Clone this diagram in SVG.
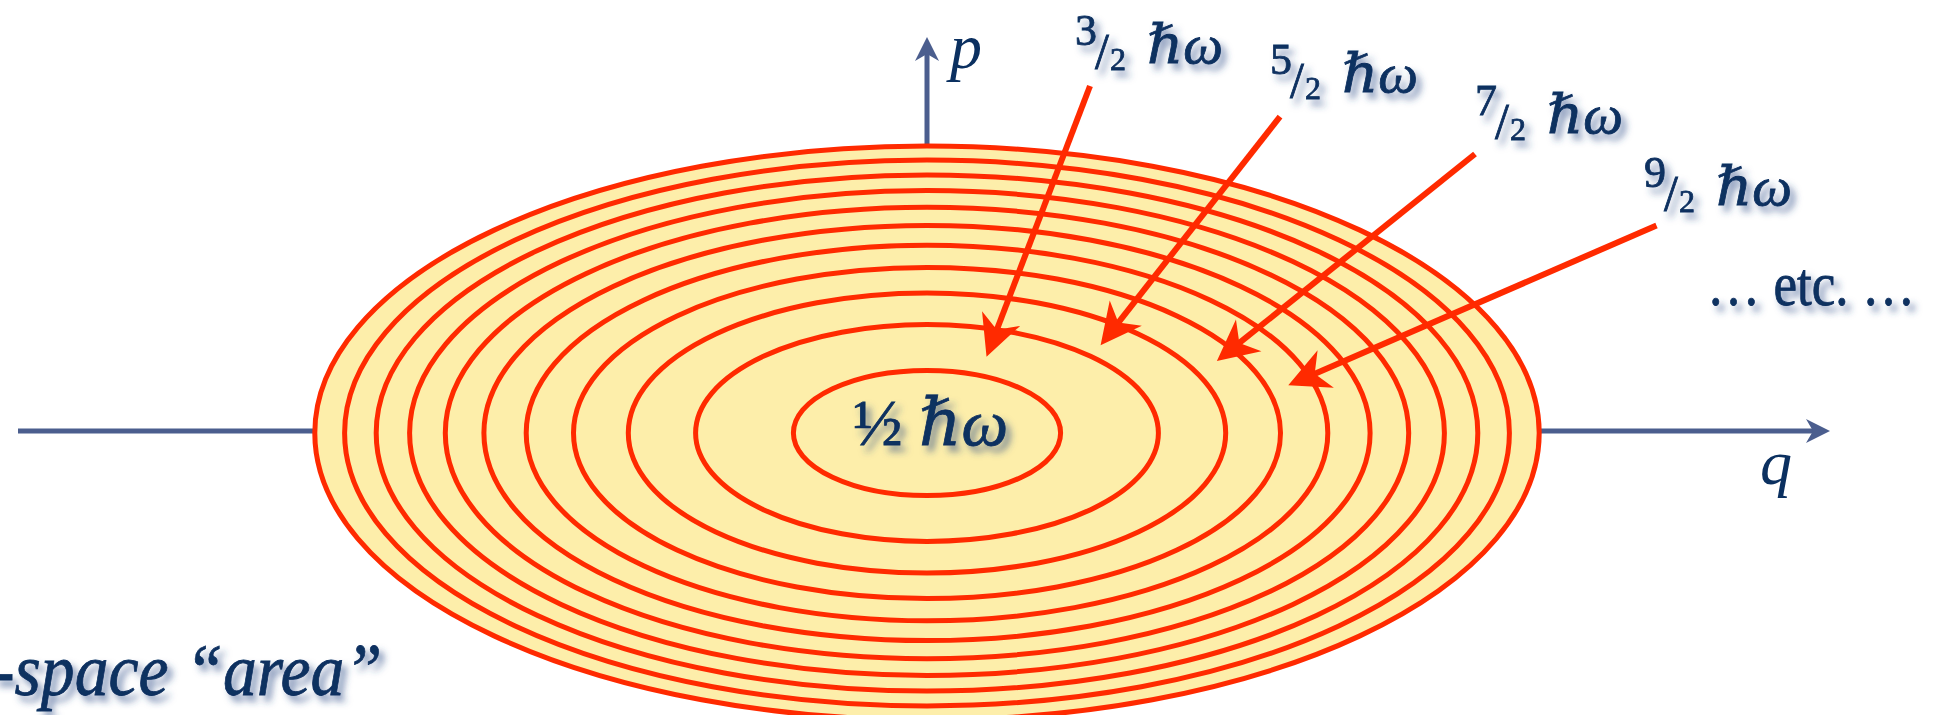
<svg xmlns="http://www.w3.org/2000/svg" width="1935" height="715" viewBox="0 0 1935 715">
  <style>
    .lvl { fill: none; stroke: #FF2A00; stroke-width: 5; }
    .axis { stroke: #4B5E8E; stroke-width: 5; fill: none; }
    .arr { stroke: #FF2A00; stroke-width: 6; fill: none; }
    .lbl { font-family: "Liberation Serif", "DejaVu Serif", serif; fill: #0B3060; }
    .it { font-style: italic; }
    .sh { filter: url(#shadow); }
    .sh text { stroke: #0B3060; stroke-width: 0.8; }
  </style>
  <defs>
    <filter id="shadow" x="-20%" y="-30%" width="150%" height="180%">
      <feDropShadow dx="5" dy="6" stdDeviation="3.5" flood-color="#2E4B86" flood-opacity="0.6"/>
    </filter>
    <marker id="redHead" markerUnits="userSpaceOnUse" markerWidth="60" markerHeight="60" viewBox="-20 -25 45 50" refX="0" refY="0" orient="auto">
      <path d="M20,0 L-14,-17 L-4,0 L-14,17 Z" fill="#FF2A00"/>
    </marker>
    <marker id="blueHead" markerUnits="userSpaceOnUse" markerWidth="40" markerHeight="40" viewBox="-20 -20 40 40" refX="0" refY="0" orient="auto">
      <path d="M10,0 L-14,-12 L-7,0 L-14,12 Z" fill="#4B5E8E"/>
    </marker>
  </defs>

  <rect width="1935" height="715" fill="#FFFFFF"/>

  <g id="axes">
    <line class="axis" x1="18" y1="431" x2="1820" y2="431" marker-end="url(#blueHead)"/>
    <line class="axis" x1="927" y1="433" x2="927" y2="47" marker-end="url(#blueHead)"/>
  </g>

  <g id="phase-space">
    <ellipse cx="927" cy="433" rx="612.2" ry="286.9" fill="#FDEEAA" stroke="none"/>
    <g id="level-10"><ellipse class="lvl" cx="927" cy="433" rx="612.2" ry="286.9"/></g>
    <g id="level-9"><ellipse class="lvl" cx="927" cy="433" rx="582.4" ry="272.9"/></g>
    <g id="level-8"><ellipse class="lvl" cx="927" cy="433" rx="550.8" ry="258.1"/></g>
    <g id="level-7"><ellipse class="lvl" cx="927" cy="433" rx="517.4" ry="242.4"/></g>
    <g id="level-6"><ellipse class="lvl" cx="927" cy="433" rx="481.7" ry="225.7"/></g>
    <g id="level-5"><ellipse class="lvl" cx="927" cy="433" rx="443.1" ry="207.6"/></g>
    <g id="level-4"><ellipse class="lvl" cx="927" cy="433" rx="400.8" ry="187.8"/></g>
    <g id="level-3"><ellipse class="lvl" cx="927" cy="433" rx="353.5" ry="165.6"/></g>
    <g id="level-2"><ellipse class="lvl" cx="927" cy="433" rx="298.7" ry="140.0"/></g>
    <g id="level-1"><ellipse class="lvl" cx="927" cy="433" rx="231.4" ry="108.4"/></g>
    <g id="level-0"><ellipse class="lvl" cx="927" cy="433" rx="133.6" ry="62.6"/></g>
  </g>

  <g id="connectors">
    <line class="arr" x1="1090" y1="86" x2="995.1" y2="334.3" marker-end="url(#redHead)"/>
    <line class="arr" x1="1280" y1="116.7" x2="1115.4" y2="326.3" marker-end="url(#redHead)"/>
    <line class="arr" x1="1475" y1="154" x2="1235.6" y2="345.9" marker-end="url(#redHead)"/>
    <line class="arr" x1="1656.5" y1="225.5" x2="1310.3" y2="375.7" marker-end="url(#redHead)"/>
  </g>

  <g id="axis-p"><text class="lbl it" x="950" y="68" font-size="64">p</text></g>
  <g id="axis-q"><text class="lbl it" x="1760" y="484" font-size="64">q</text></g>

  <g id="label-half" class="sh">
    <text class="lbl" x="853" y="445" font-size="66">½ <tspan class="it">ℏω</tspan></text>
  </g>

  <g id="label-3-2" class="sh" transform="translate(1075,63)">
    <text class="lbl" x="0" y="-18" font-size="44">3</text>
    <text class="lbl" x="20" y="5" font-size="50">/</text>
    <text class="lbl" x="35" y="7" font-size="32">2</text>
    <text class="lbl it" x="72" y="0" font-size="54" textLength="76" lengthAdjust="spacingAndGlyphs">ℏω</text>
  </g>
  <g id="label-5-2" class="sh" transform="translate(1270,92)">
    <text class="lbl" x="0" y="-18" font-size="44">5</text>
    <text class="lbl" x="20" y="5" font-size="50">/</text>
    <text class="lbl" x="35" y="7" font-size="32">2</text>
    <text class="lbl it" x="72" y="0" font-size="54" textLength="76" lengthAdjust="spacingAndGlyphs">ℏω</text>
  </g>
  <g id="label-7-2" class="sh" transform="translate(1475,133)">
    <text class="lbl" x="0" y="-18" font-size="44">7</text>
    <text class="lbl" x="20" y="5" font-size="50">/</text>
    <text class="lbl" x="35" y="7" font-size="32">2</text>
    <text class="lbl it" x="72" y="0" font-size="54" textLength="76" lengthAdjust="spacingAndGlyphs">ℏω</text>
  </g>
  <g id="label-9-2" class="sh" transform="translate(1644,205)">
    <text class="lbl" x="0" y="-18" font-size="44">9</text>
    <text class="lbl" x="20" y="5" font-size="50">/</text>
    <text class="lbl" x="35" y="7" font-size="32">2</text>
    <text class="lbl it" x="72" y="0" font-size="54" textLength="76" lengthAdjust="spacingAndGlyphs">ℏω</text>
  </g>

  <g id="label-etc" class="sh">
    <text class="lbl" x="1707" y="305" font-size="62" textLength="208" lengthAdjust="spacingAndGlyphs">… etc. …</text>
  </g>

  <g id="label-area" class="sh">
    <text class="lbl it" x="-8" y="695" font-size="74" textLength="390" lengthAdjust="spacingAndGlyphs">-space “area”</text>
  </g>
</svg>
